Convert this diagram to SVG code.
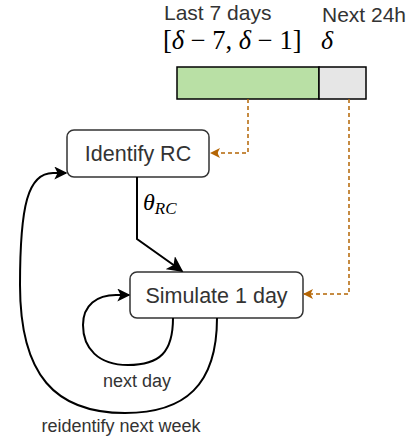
<svg xmlns="http://www.w3.org/2000/svg" width="414" height="445" viewBox="0 0 414 445">
<defs>
<style>
.lbl{font-family:"Liberation Sans",Arial,sans-serif;fill:#333;}
.math{font-family:"Liberation Serif","DejaVu Serif",serif;fill:#000;}
.box{fill:#fff;stroke:#333;stroke-width:1.5;}
.wire{fill:none;stroke:#000;stroke-width:2;}
.dash{fill:none;stroke:#b46504;stroke-width:1.5;stroke-dasharray:4 3;}
</style>
<marker id="blk" viewBox="0 0 10 10" refX="9" refY="5" markerWidth="13" markerHeight="13" markerUnits="userSpaceOnUse" orient="auto">
<path d="M0,0 L10,5 L0,10 L2.5,5 Z" fill="#000"/>
</marker>
<marker id="blkL" viewBox="0 0 10 10" refX="9" refY="5" markerWidth="16" markerHeight="16" markerUnits="userSpaceOnUse" orient="auto">
<path d="M0,0 L10,5 L0,10 L2.5,5 Z" fill="#000"/>
</marker>
<marker id="org" viewBox="0 0 10 10" refX="9" refY="5" markerWidth="10" markerHeight="10" markerUnits="userSpaceOnUse" orient="auto">
<path d="M0,0 L10,5 L0,10 L2.5,5 Z" fill="#b46504"/>
</marker>
</defs>

<g id="timeline">
<rect x="177" y="67" width="142" height="32" fill="#b9e0a5" stroke="#000" stroke-width="1.5"/>
<rect x="319" y="67" width="47" height="32" fill="#e6e6e6" stroke="#000" stroke-width="1.5"/>
<text class="lbl" x="164" y="20" font-size="21">Last 7 days</text>
<text class="lbl" x="322" y="22" font-size="21">Next 24h</text>
<text class="math" x="163" y="49" font-size="26.5">[<tspan font-style="italic">δ</tspan> − 7, <tspan font-style="italic">δ</tspan> − 1]</text>
<text class="math" x="321" y="49" font-size="26" font-style="italic">δ</text>
</g>

<g id="identify">
<rect class="box" x="67" y="130" width="142" height="47" rx="7"/>
<text class="lbl" x="138" y="161" font-size="21.5" text-anchor="middle">Identify RC</text>
</g>

<g id="simulate">
<rect class="box" x="130" y="272" width="173" height="46" rx="7"/>
<text class="lbl" x="216.5" y="303" font-size="21.5" text-anchor="middle">Simulate 1 day</text>
</g>

<g id="connectors">
<path class="dash" d="M248 99 L248 153 L211 153" marker-end="url(#org)"/>
<path class="dash" d="M349 99 L349 294 L304 294" marker-end="url(#org)"/>
<path class="wire" d="M137 177 L137 239 L182 271" marker-end="url(#blkL)"/>
<path class="wire" d="M173 318 C173 352 160 365 128 365 C98 365 83 348 83 325 C83 305 97 295 116 295 L129 295" marker-end="url(#blk)"/>
<path class="wire" d="M217 318 C217 385 185 413 125 413 C55 413 20 375 20 285 C20 205 28 173 53 173 L66 173" marker-end="url(#blk)"/>
<text class="math" x="143" y="210" font-size="24" font-style="italic">θ<tspan font-size="17" dy="4">RC</tspan></text>
<text class="lbl" x="137" y="387" font-size="18" text-anchor="middle">next day</text>
<text class="lbl" x="121" y="432" font-size="18" text-anchor="middle">reidentify next week</text>
</g>
</svg>
